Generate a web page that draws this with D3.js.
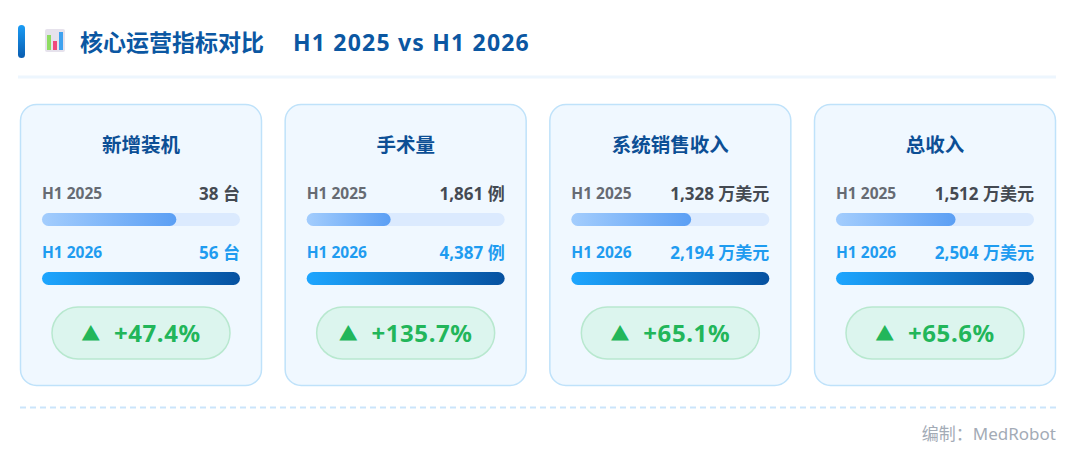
<!DOCTYPE html>
<html lang="zh">

<head>
  <meta charset="UTF-8">
  <title>核心运营指标对比</title>
  <script src="https://cdn.jsdelivr.net/npm/d3@7/dist/d3.min.js"></script>
  <style>
    html, body { margin: 0; padding: 0; background: #fff; }
    text { font-family: "Noto Sans", "Noto Sans CJK SC", sans-serif; }
  </style>
</head>

<body>
</body>

</html>
<script>
  const w = 1080;
  const h = 450;

  // 数据
  const categories = ["新增装机", "手术量", "系统销售收入", "总收入"];
  const units = ["台", "例", "万美元", "万美元"];
  const periods = ["H1 2025", "H1 2026"];
  const values2025 = [38, 1861, 1328, 1512];
  const values2026 = [56, 4387, 2194, 2504];
  const growthLabels = ["+47.4%", "+135.7%", "+65.1%", "+65.6%"];

  const svg = d3.select("body").append("svg").attr("width", w).attr("height", h);
  const defs = svg.append("defs");

  function linGrad(id, c1, c2, vertical) {
    const g = defs.append("linearGradient").attr("id", id)
      .attr("x1", 0).attr("y1", 0).attr("x2", vertical ? 0 : 1).attr("y2", vertical ? 1 : 0);
    g.append("stop").attr("offset", "0%").attr("stop-color", c1);
    g.append("stop").attr("offset", "100%").attr("stop-color", c2);
  }
  linGrad("g25", "#a3cdfd", "#5b9ff4");
  linGrad("g26", "#1ea6ff", "#0651a0");
  linGrad("accent", "#1a9cf5", "#0a5db0", true);

  // 标题
  svg.append("rect").attr("x", 18).attr("y", 25).attr("width", 7).attr("height", 33)
    .attr("rx", 3.5).attr("fill", "url(#accent)");

  // 图标（柱状图）
  const icon = svg.append("g").attr("transform", "translate(45,29)");
  icon.append("rect").attr("width", 20).attr("height", 23).attr("rx", 2).attr("fill", "#e6e2ec");
  icon.append("rect").attr("x", 2).attr("y", 6).attr("width", 4).attr("height", 15).attr("fill", "#8fdc62");
  icon.append("rect").attr("x", 8).attr("y", 12).attr("width", 4).attr("height", 9).attr("fill", "#f0487c");
  icon.append("rect").attr("x", 14).attr("y", 3).attr("width", 4).attr("height", 18).attr("fill", "#3fa2ef");

  const title = svg.append("text").attr("x", 80).attr("y", 51)
    .attr("font-size", 23).attr("font-weight", "bold").attr("fill", "#0b57a2");
  title.append("tspan").text("核心运营指标对比");
  title.append("tspan").attr("x", 293).attr("letter-spacing", 1.2).text("H1 2025 vs H1 2026");

  svg.append("line").attr("x1", 18).attr("x2", 1056).attr("y1", 77).attr("y2", 77)
    .attr("stroke", "#edf6fe").attr("stroke-width", 3);

  // 卡片位置
  const xCard = d3.scaleBand().domain(categories).range([20, 1056]).paddingInner(0.0857);
  const cardTop = 104, cardH = 281;
  const barX = 22, barW = xCard.bandwidth() - 44;

  const cards = svg.selectAll("g.card")
    .data(categories)
    .enter()
    .append("g")
    .attr("class", "card")
    .attr("transform", function (d) { return "translate(" + xCard(d) + "," + cardTop + ")"; });

  cards.append("rect")
    .attr("x", 0.5).attr("y", 0.5)
    .attr("width", xCard.bandwidth() - 1).attr("height", cardH)
    .attr("rx", 16).attr("fill", "#f0f8ff").attr("stroke", "#bfe2fa").attr("stroke-width", 1.5);

  cards.append("text")
    .attr("x", xCard.bandwidth() / 2).attr("y", 48)
    .attr("text-anchor", "middle").attr("font-size", 19.5).attr("font-weight", "bold")
    .attr("fill", "#0c4f95")
    .text(function (d) { return d; });

  const fmt = d3.format(",");

  cards.each(function (d, i) {
    const g = d3.select(this);
    const vals = [values2025[i], values2026[i]];
    const xs = d3.scaleLinear().domain([0, d3.max(vals)]).range([0, barW]);
    const rows = [
      { label: periods[0], v: vals[0], labelColor: "#666b73", valueColor: "#444a52", fill: "url(#g25)", ty: 95, by: 109 },
      { label: periods[1], v: vals[1], labelColor: "#1f9cf0", valueColor: "#1f9cf0", fill: "url(#g26)", ty: 154, by: 168 }
    ];
    rows.forEach(function (r, k) {
      g.append("text").attr("x", barX).attr("y", r.ty)
        .attr("font-size", 15.5).attr("font-weight", "bold").attr("fill", r.labelColor)
        .text(r.label);
      g.append("text").attr("x", barX + barW).attr("y", r.ty + 1)
        .attr("text-anchor", "end").attr("font-size", 17).attr("font-weight", "bold").attr("fill", r.valueColor)
        .text(fmt(r.v) + " " + units[i]);
      if (k === 0) {
        g.append("rect").attr("x", barX).attr("y", r.by).attr("width", barW).attr("height", 13)
          .attr("rx", 6.5).attr("fill", "#dbeafe");
      }
      g.append("rect").attr("x", barX).attr("y", r.by).attr("width", xs(r.v)).attr("height", 13)
        .attr("rx", 6.5).attr("fill", r.fill);
    });

    // 增长标签
    const pillW = 178, pillH = 52;
    g.append("rect").attr("x", (xCard.bandwidth() - pillW) / 2).attr("y", 203)
      .attr("width", pillW).attr("height", pillH).attr("rx", pillH / 2)
      .attr("fill", "#dcf5ee").attr("stroke", "#b8e8cf").attr("stroke-width", 1.5);
    const t = g.append("text").attr("x", xCard.bandwidth() / 2).attr("y", 238)
      .attr("text-anchor", "middle").attr("font-weight", "bold").attr("fill", "#22b65a");
    t.append("tspan").attr("font-size", 19).attr("dy", -1).text("▲");
    t.append("tspan").attr("font-size", 24).attr("dy", 1).attr("letter-spacing", 0.6)
      .text("\u00a0\u00a0" + growthLabels[i]);
  });

  // 底部
  svg.append("line").attr("x1", 20).attr("x2", 1056).attr("y1", 407.5).attr("y2", 407.5)
    .attr("stroke", "#cbe5fb").attr("stroke-width", 2).attr("stroke-dasharray", "6,4");

  svg.append("text").attr("x", 1056).attr("y", 440).attr("text-anchor", "end")
    .attr("font-size", 17).attr("fill", "#a3abb6")
    .text("编制：MedRobot");
</script>
